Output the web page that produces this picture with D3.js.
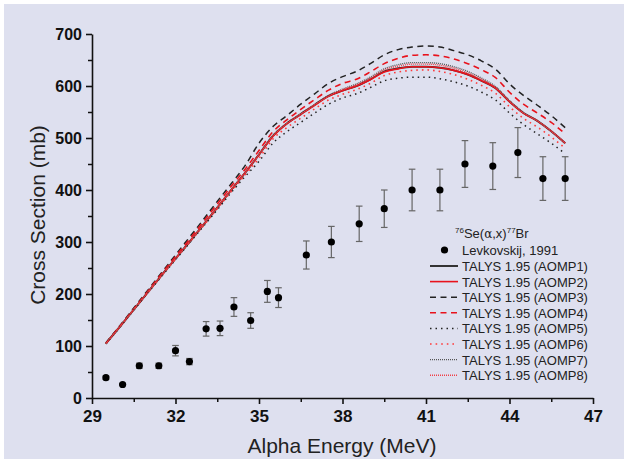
<!DOCTYPE html>
<html><head><meta charset="utf-8">
<script src="https://cdn.jsdelivr.net/npm/d3@7"></script>
<style>
html,body{margin:0;padding:0;background:#fff;}
svg{display:block;}
text{font-family:"Liberation Sans",Arial,sans-serif;}
</style></head>
<body><svg id="c" width="624" height="459"></svg>
<script>
// ---- data ----
const energies = [29.5,30,30.5,31,31.5,32,32.5,33,33.5,34,34.5,35,35.5,36,36.5,37,37.5,38,38.5,39,39.5,40,40.5,41,41.5,42,42.5,43,43.5,44,44.5,45,45.5,46];
const aomp1 = [105,137,170,203,236,268,300,333,366,400,433,468,504,528,546,564,581,591,600,613,628,634,637,637,635,630,622,610,596,570,548,533,513,490];
const aomp2 = [105,137,170,203,236,268,300,333,366,400,433,468,503,527,545,563,580,591,600,612,627,633,637,637,635,630,622,610,596,570,548,533,513,490];
const aomp3 = [106,139,173,207,241,275,309,343,378,412,447,490,522,543,565,585,605,618,628,643,660,670,675,677,675,668,660,648,632,604,582,563,543,520];
const aomp4 = [105,138,171,205,239,272,305,339,373,407,440,476,512,535,555,574,592,605,613,627,643,653,659,660,658,652,643,631,616,588,565,548,530,508];
const aomp5 = [104,136,169,202,234,266,298,330,362,395,426,455,490,512,530,548,565,577,585,597,610,615,617,617,614,608,600,588,573,548,526,508,490,470];
const aomp6 = [105,137,170,202,235,267,299,331,364,397,429,461,498,520,538,556,573,584,593,605,620,627,630,631,628,622,613,601,586,560,538,521,502,480];
const aomp7 = [105,137,170,203,236,268,300,333,366,400,433,468,505,528,546,564,582,594,604,617,633,641,645,645,643,637,628,615,599,572,549,533,513,490];
const aomp8 = [105,137,170,203,236,268,300,333,366,400,433,468,504,528,546,564,581,593,602,615,631,638,642,642,640,634,625,613,597,571,548,533,513,490];
const expEnergy = [29.5,30.1,30.7,31.4,32.0,32.5,33.1,33.6,34.1,34.7,35.3,35.7,36.7,37.6,38.6,39.5,40.5,41.5,42.4,43.4,44.3,45.2,46.0];
const expXS     = [39,26,62,62,91,70,133,134,175,149,205,193,275,300,335,364,400,400,450,446,472,422,422];
const expErr    = [3,2,5,5,10,6,14,14,18,15,21,19,27,30,34,36,40,40,45,45,48,42,42];
const xTicks = [29,32,35,38,41,44,47];
const yTicks = [0,100,200,300,400,500,600,700];
const seriesNames = ["TALYS 1.95 (AOMP1)","TALYS 1.95 (AOMP2)","TALYS 1.95 (AOMP3)","TALYS 1.95 (AOMP4)","TALYS 1.95 (AOMP5)","TALYS 1.95 (AOMP6)","TALYS 1.95 (AOMP7)","TALYS 1.95 (AOMP8)"];
const expName = "Levkovskij, 1991";

// ---- styles ----
const RED = "#e8121c", BLK = "#222";
const styles = [
  {c:"#333", w:2, d:null},
  {c:RED, w:1.6, d:null},
  {c:BLK, w:1.5, d:"6,4.5"},
  {c:RED, w:1.6, d:"6,4.5"},
  {c:BLK, w:1.5, d:"1.5,4"},
  {c:"#ff3a3a", w:1.6, d:"1.6,4"},
  {c:"#555", w:1.4, d:"1,1"},
  {c:"#f04048", w:1.4, d:"1,1"}
];
const allSeries = [aomp1,aomp2,aomp3,aomp4,aomp5,aomp6,aomp7,aomp8];

const svg = d3.select("#c");
svg.append("rect").attr("x",0).attr("y",0).attr("width",624).attr("height",459).attr("fill","#fff");
svg.append("rect").attr("x",4).attr("y",4).attr("width",620).attr("height",455).attr("fill","#dee0ef");

const x = d3.scaleLinear().domain([29,47]).range([92,593]);
const y = d3.scaleLinear().domain([0,700]).range([398,34]);

// minor ticks
const minorX = d3.range(29,47.01,1.5).filter(v=>!xTicks.includes(v));
const minorY = d3.range(0,701,50).filter(v=>!yTicks.includes(v));
svg.append("g").attr("transform","translate(0,398)")
  .call(d3.axisBottom(x).tickValues(minorX).tickSize(4).tickFormat(""))
  .call(g=>g.select(".domain").remove())
  .selectAll("line").attr("stroke","#111").attr("stroke-width",1.5);
svg.append("g").attr("transform","translate(92,0)")
  .call(d3.axisLeft(y).tickValues(minorY).tickSize(4).tickFormat(""))
  .call(g=>g.select(".domain").remove())
  .selectAll("line").attr("stroke","#111").attr("stroke-width",1.5);

// major axes
const gx = svg.append("g").attr("transform","translate(0,398)")
  .call(d3.axisBottom(x).tickValues(xTicks).tickSize(6).tickSizeOuter(0).tickPadding(6).tickFormat(d3.format("d")));
gx.select(".domain").attr("stroke","#111").attr("stroke-width",1.6);
gx.selectAll(".tick line").attr("stroke","#111").attr("stroke-width",1.6);
gx.selectAll(".tick text").attr("font-size",17).attr("font-weight","bold").attr("fill","#111")
  .attr("font-family","Liberation Sans, Arial, sans-serif");

const gy = svg.append("g").attr("transform","translate(92,0)")
  .call(d3.axisLeft(y).tickValues(yTicks).tickSize(6).tickSizeOuter(0).tickPadding(4).tickFormat(d3.format("d")));
gy.select(".domain").attr("stroke","#111").attr("stroke-width",1.6);
gy.selectAll(".tick line").attr("stroke","#111").attr("stroke-width",1.6);
gy.selectAll(".tick text").attr("font-size",16).attr("font-weight","bold").attr("fill","#111")
  .attr("font-family","Liberation Sans, Arial, sans-serif");

// axis titles
svg.append("text").attr("x",342).attr("y",453).attr("text-anchor","middle")
  .attr("font-size",21).attr("fill","#222").text("Alpha Energy (MeV)");
svg.append("text").attr("transform","translate(45,215) rotate(-90)").attr("text-anchor","middle")
  .attr("font-size",21).attr("fill","#222").text("Cross Section (mb)");

// curves
const line = d3.line().x((d,i)=>x(energies[i])).y(d=>y(d)).curve(d3.curveMonotoneX);
allSeries.forEach((s,k)=>{
  const st = styles[k];
  const p = svg.append("path").datum(s).attr("d",line).attr("fill","none")
    .attr("stroke",st.c).attr("stroke-width",st.w);
  if(st.d) p.attr("stroke-dasharray",st.d);
});

// experimental data
const eg = svg.append("g");
expEnergy.forEach((e,i)=>{
  const cx = x(e), y1 = y(expXS[i]-expErr[i]), y2 = y(expXS[i]+expErr[i]);
  eg.append("line").attr("x1",cx).attr("x2",cx).attr("y1",y1).attr("y2",y2).attr("stroke","#666").attr("stroke-width",1.2);
  eg.append("line").attr("x1",cx-3.3).attr("x2",cx+3.3).attr("y1",y1).attr("y2",y1).attr("stroke","#666").attr("stroke-width",1.2);
  eg.append("line").attr("x1",cx-3.3).attr("x2",cx+3.3).attr("y1",y2).attr("y2",y2).attr("stroke","#666").attr("stroke-width",1.2);
});
eg.selectAll("circle").data(expEnergy).join("circle")
  .attr("cx",d=>x(d)).attr("cy",(d,i)=>y(expXS[i])).attr("r",3.6).attr("fill","#000");

// legend
const lg = svg.append("g");
const t = lg.append("text").attr("x",455).attr("y",238).attr("font-size",13).attr("fill","#222");
t.append("tspan").attr("font-size",8).attr("dy",-5).text("76");
t.append("tspan").attr("dy",5).text("Se(");
t.append("tspan").attr("font-family","DejaVu Serif, serif").attr("font-size",12).text("\u03b1");
t.append("tspan").text(",x)");
t.append("tspan").attr("font-size",8).attr("dy",-5).text("77");
t.append("tspan").attr("dy",5).text("Br");
lg.append("circle").attr("cx",444.5).attr("cy",250).attr("r",3.6).attr("fill","#000");
lg.append("text").attr("x",462).attr("y",255).attr("font-size",13).attr("fill","#222").text(expName);
seriesNames.forEach((n,k)=>{
  const yy = 266 + k*15.6;
  const st = styles[k];
  const l = lg.append("line").attr("x1",430).attr("x2",458).attr("y1",yy).attr("y2",yy)
    .attr("stroke",st.c).attr("stroke-width",st.w);
  if(st.d) l.attr("stroke-dasharray",st.d);
  lg.append("text").attr("x",462).attr("y",yy+5).attr("font-size",13).attr("fill","#222").text(n);
});
</script></body></html>
